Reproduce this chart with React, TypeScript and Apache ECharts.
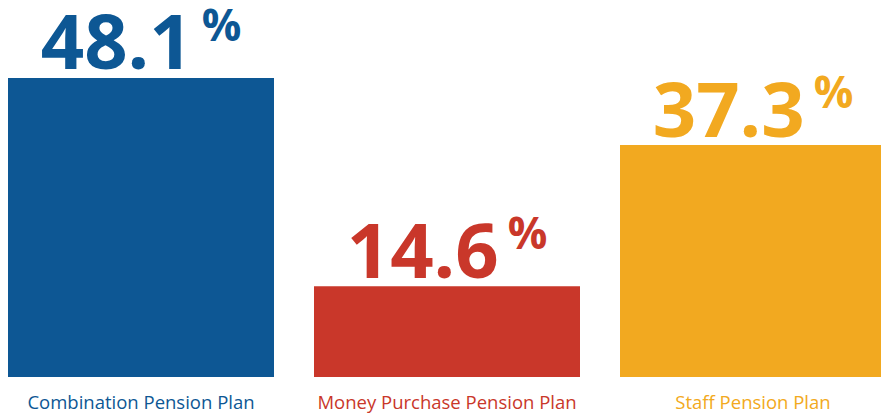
import React, { useEffect, useRef } from "react";
import * as echarts from "echarts";

const categories = ["Combination Pension Plan", "Money Purchase Pension Plan", "Staff Pension Plan"];
const values = [48.1, 14.6, 37.3];
const palette = ["#0d5794", "#c9372a", "#f2a920"];

export default function App() {
  const ref = useRef<HTMLDivElement>(null);
  useEffect(() => {
    const chart = echarts.init(ref.current!, null, { renderer: "svg" });
    const font = "'Open Sans', 'Noto Sans', sans-serif";
    const catRich: Record<string, any> = {};
    palette.forEach((c, i) => {
      catRich["c" + i] = { color: c, fontSize: 18.5, fontFamily: font };
    });
    chart.setOption({
      animation: false,
      grid: { left: -12, width: 918, top: 4, bottom: 37, containLabel: false, outerBoundsMode: "none" },
      xAxis: {
        type: "category",
        data: categories,
        axisLine: { show: false },
        axisTick: { show: false },
        axisLabel: {
          interval: 0,
          margin: 15,
          fontSize: 18.5,
          fontFamily: font,
          formatter: (v: string, i: number) => `{c${i}|${v}}`,
          rich: catRich,
        },
      },
      yAxis: { type: "value", min: 0, max: 60, show: false },
      series: [
        {
          type: "bar",
          barWidth: 266,
          data: values.map((v, i) => ({
            value: v,
            itemStyle: { color: palette[i] },
            label: { color: palette[i] },
          })),
          label: {
            show: true,
            position: "top",
            distance: 0,
            formatter: (p: any) => `{n|${p.value.toFixed(1)}}{p|%}`,
            rich: {
              n: { fontSize: 76, fontWeight: 700, fontFamily: font, lineHeight: 76 },
              p: { fontSize: 44, fontWeight: 700, fontFamily: font, verticalAlign: "top", lineHeight: 45, padding: [0, 0, 0, 9] },
            },
          },
        },
      ],
    });
    return () => chart.dispose();
  }, []);
  return <div ref={ref} style={{ width: 881, height: 414, position: "absolute", left: 0, top: 0 }} />;
}
